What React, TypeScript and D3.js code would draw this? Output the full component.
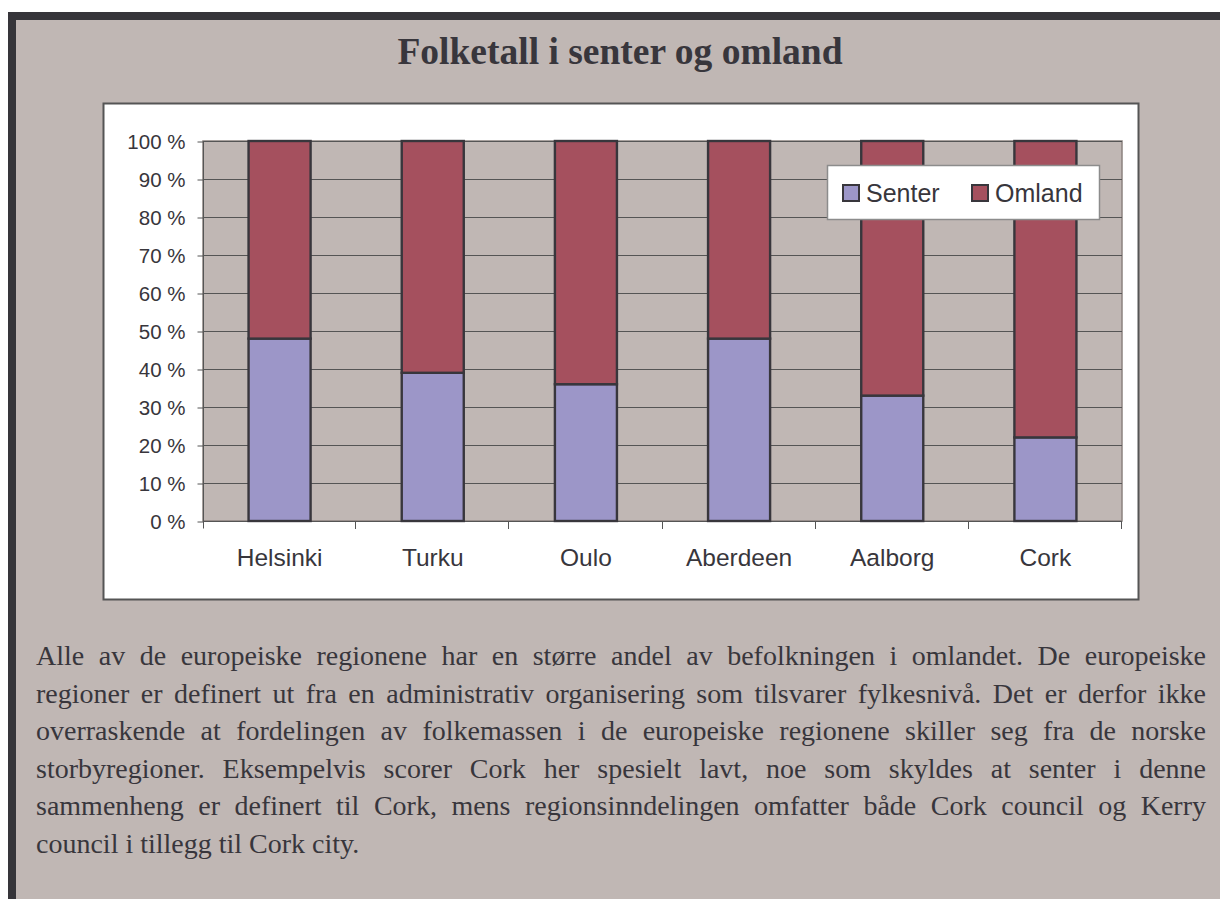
import React, { useEffect, useRef } from 'react';
import * as d3 from 'd3';

const categories = ['Helsinki', 'Turku', 'Oulo', 'Aberdeen', 'Aalborg', 'Cork'];
const senter = [48, 39, 36, 48, 33, 22];
const omland = [52, 61, 64, 52, 67, 78];
const seriesNames = ['Senter', 'Omland'];
const seriesColors = ['#9c96c8', '#a5505e'];
const yTicks = [0, 10, 20, 30, 40, 50, 60, 70, 80, 90, 100];

const title = 'Folketall i senter og omland';
const paragraph = [
  'Alle av de europeiske regionene har en større andel av befolkningen i omlandet. De europeiske',
  'regioner er definert ut fra en administrativ organisering som tilsvarer fylkesnivå. Det er derfor ikke',
  'overraskende at fordelingen av folkemassen i de europeiske regionene skiller seg fra de norske',
  'storbyregioner. Eksempelvis scorer Cork her spesielt lavt, noe som skyldes at senter i denne',
  'sammenheng er definert til Cork, mens regionsinndelingen omfatter både Cork council og Kerry',
  'council i tillegg til Cork city.',
];

const W = 1220;
const H = 899;
const BG = '#c0b7b4';
const INK = '#38363c';

export default function App() {
  const ref = useRef<SVGSVGElement>(null);

  useEffect(() => {
    const svg = d3.select(ref.current);
    svg.selectAll('*').remove();

    // page frame
    svg.append('rect').attr('x', 8).attr('y', 12).attr('width', W - 8).attr('height', H - 12).attr('fill', '#36353a');
    svg.append('rect').attr('x', 16).attr('y', 20).attr('width', W - 16).attr('height', H - 20).attr('fill', BG);

    svg.append('text')
      .attr('x', 620).attr('y', 64)
      .attr('text-anchor', 'middle')
      .attr('font-family', '"Liberation Serif", serif')
      .attr('font-weight', 'bold')
      .attr('font-size', 37.5)
      .attr('fill', INK)
      .text(title);

    // chart box
    svg.append('rect')
      .attr('x', 103.5).attr('y', 103.5).attr('width', 1035).attr('height', 496)
      .attr('fill', '#fff').attr('stroke', '#555').attr('stroke-width', 2);

    const left = 203, right = 1122, top = 141, bottom = 521;
    const x = d3.scaleBand<string>().domain(categories).range([left, right]).paddingInner(0.595).paddingOuter(0.2975);
    const y = d3.scaleLinear().domain([0, 100]).range([bottom, top]);

    svg.append('rect')
      .attr('x', left).attr('y', top).attr('width', right - left).attr('height', bottom - top)
      .attr('fill', BG).attr('stroke', '#8c827f').attr('stroke-width', 1.5);

    // gridlines
    svg.append('g').selectAll('line').data(yTicks.filter(d => d > 0)).enter().append('line')
      .attr('x1', left).attr('x2', right)
      .attr('y1', d => Math.round(y(d)) + 0.5).attr('y2', d => Math.round(y(d)) + 0.5)
      .attr('stroke', '#555').attr('stroke-width', 1);

    // y axis
    const yAxis = svg.append('g')
      .attr('transform', 'translate(' + (left + 0.5) + ',0.5)')
      .call(d3.axisLeft(y).tickValues(yTicks).tickSize(6).tickPadding(12).tickFormat(d => d + ' %'));
    yAxis.select('.domain').attr('d', 'M0,' + (top - 0.5) + 'V' + (bottom + 7)).attr('stroke', '#555');
    yAxis.selectAll('line').attr('stroke', '#555');
    yAxis.selectAll('text').attr('font-family', '"Liberation Sans", Arial, sans-serif').attr('font-size', 20.5).attr('fill', INK);

    // x axis
    const xg = svg.append('g');
    xg.append('line').attr('x1', left).attr('x2', right).attr('y1', bottom + 0.5).attr('y2', bottom + 0.5).attr('stroke', '#555');
    const step = x.step();
    xg.selectAll('line.tick').data(d3.range(1, categories.length + 1)).enter().append('line')
      .attr('class', 'tick')
      .attr('x1', i => Math.round(left + i * step) - 0.5).attr('x2', i => Math.round(left + i * step) - 0.5)
      .attr('y1', bottom).attr('y2', bottom + 8)
      .attr('stroke', '#555');
    xg.selectAll('text').data(categories).enter().append('text')
      .attr('x', d => (x(d) as number) + x.bandwidth() / 2)
      .attr('y', 566)
      .attr('text-anchor', 'middle')
      .attr('font-family', '"Liberation Sans", Arial, sans-serif')
      .attr('font-size', 24.5)
      .attr('fill', INK)
      .text(d => d);

    // bars
    const rows = categories.map((c, i) => ({ cat: c, Senter: senter[i], Omland: omland[i] }));
    const stacked = d3.stack<any>().keys(seriesNames)(rows);
    stacked.forEach((s, si) => {
      svg.append('g').selectAll('rect').data(s).enter().append('rect')
        .attr('x', d => (x(d.data.cat) as number))
        .attr('width', x.bandwidth())
        .attr('y', d => y(d[1]))
        .attr('height', d => y(d[0]) - y(d[1]))
        .attr('fill', seriesColors[si])
        .attr('stroke', INK)
        .attr('stroke-width', 2.4);
    });

    // legend
    const lg = svg.append('g');
    lg.append('rect').attr('x', 827.5).attr('y', 165.5).attr('width', 272).attr('height', 54)
      .attr('fill', '#fff').attr('stroke', '#8c8c8c').attr('stroke-width', 1.5);
    const lx = [843, 972];
    seriesNames.forEach((n, i) => {
      lg.append('rect').attr('x', lx[i]).attr('y', 185).attr('width', 16).attr('height', 16)
        .attr('fill', seriesColors[i]).attr('stroke', INK).attr('stroke-width', 2);
      lg.append('text').attr('x', lx[i] + 23).attr('y', 201.5)
        .attr('font-family', '"Liberation Sans", Arial, sans-serif')
        .attr('font-size', 25)
        .attr('fill', INK)
        .text(n);
    });

    // paragraph, justified
    const px0 = 36, px1 = 1206;
    const pg = svg.append('g');
    paragraph.forEach((line, i) => {
      const t = pg.append('text')
        .attr('x', px0).attr('y', 665 + i * 37.6)
        .attr('font-family', '"Liberation Serif", "Times New Roman", serif')
        .attr('font-size', 28)
        .attr('fill', INK)
        .text(line);
      if (i < paragraph.length - 1) {
        const natural = (t.node() as SVGTextElement).getComputedTextLength();
        const gaps = line.split(' ').length - 1;
        t.attr('word-spacing', (px1 - px0 - natural) / gaps);
      }
    });
  }, []);

  return (
    <svg ref={ref} width={W} height={H} style={{ position: 'absolute', left: 0, top: 0, background: '#fff' }} />
  );
}
